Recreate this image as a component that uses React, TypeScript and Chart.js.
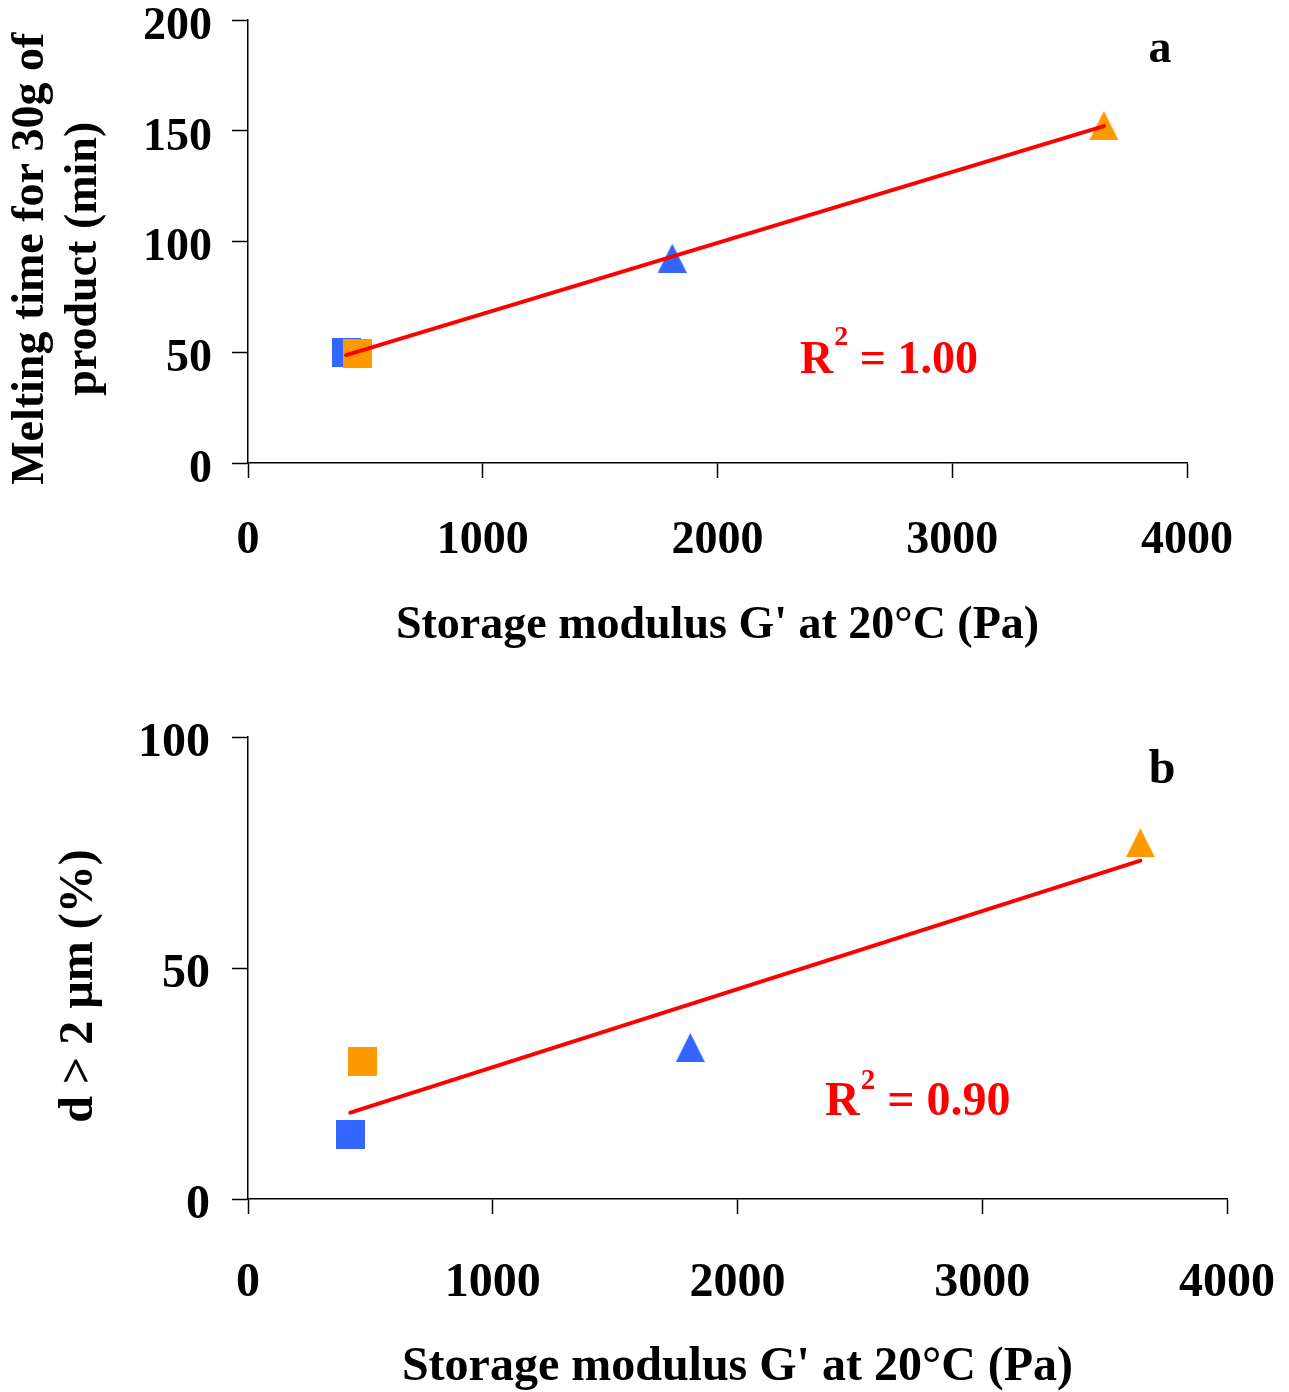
import React, { useEffect, useRef } from 'react';
import { Chart, registerables } from 'chart.js';

Chart.register(...registerables);

// ---------- data ----------
const sampleNames = ['Sample 1 (blue square)', 'Sample 2 (orange square)', 'Sample 3 (blue triangle)', 'Sample 4 (orange triangle)'];
const sampleColors = ['#3366FF', '#FF9900', '#3366FF', '#FF9900'];
const sampleShapes = ['square', 'square', 'triangle', 'triangle'];
const storageModulus = [418, 466, 1807, 3646]; // G' at 20°C (Pa)
const meltingTime = [50, 49.4, 92.5, 152.4]; // min, panel a
const largeDropletShare = [13.9, 29.8, 32.8, 77.1]; // d > 2 µm (%), panel b
const xTicks = [0, 1000, 2000, 3000, 4000];
const yTicksA = [0, 50, 100, 150, 200];
const yTicksB = [0, 50, 100];
const r2LabelA = '1.00';
const r2LabelB = '0.90';
const xTitle = "Storage modulus G' at 20°C (Pa)";
const yTitleA = ['Melting time for 30g of', 'product (min)'];
const yTitleB = ['d > 2 µm (%)'];

const FONT = "'Liberation Serif', 'Times New Roman', Times, serif";

function fitLine(xs: number[], ys: number[]) {
  const n = xs.length;
  const mx = xs.reduce((a, b) => a + b, 0) / n;
  const my = ys.reduce((a, b) => a + b, 0) / n;
  let sxx = 0;
  let sxy = 0;
  for (let i = 0; i < n; i++) {
    sxx += (xs[i] - mx) * (xs[i] - mx);
    sxy += (xs[i] - mx) * (ys[i] - my);
  }
  const slope = sxy / sxx;
  const intercept = my - slope * mx;
  const x0 = Math.min(...xs);
  const x1 = Math.max(...xs);
  return [
    { x: x0, y: intercept + slope * x0 },
    { x: x1, y: intercept + slope * x1 },
  ];
}

function makeMarker(shape: string, color: string, size: number) {
  const c = document.createElement('canvas');
  c.width = size;
  c.height = size;
  const ctx = c.getContext('2d')!;
  ctx.fillStyle = color;
  if (shape === 'square') {
    ctx.fillRect(0, 0, size, size);
  } else {
    ctx.beginPath();
    ctx.moveTo(size / 2, 0);
    ctx.lineTo(size, size);
    ctx.lineTo(0, size);
    ctx.closePath();
    ctx.fill();
  }
  return c;
}

type Panel = {
  values: number[];
  yTicks: number[];
  yTitle: string[];
  canvasHeight: number;
  area: { left: number; top: number; right: number; bottom: number };
  font: number;
  supFont: number;
  supRaise: number;
  xTickPad: number;
  yTickPad: number;
  labelOffset: number;
  xTitlePad: number;
  yTitlePad: number;
  yTitleLineHeight: number;
  yTitleShift: string;
  letter: string;
  letterPos: [number, number];
  r2: string;
  r2Pos: [number, number];
};

function buildConfig(p: Panel) {
  const W = 1289;
  const markerDatasets = sampleNames.map((name, i) => ({
    type: 'scatter' as const,
    label: name,
    data: [{ x: storageModulus[i], y: p.values[i] }],
    pointStyle: makeMarker(sampleShapes[i], sampleColors[i], 29),
    pointRadius: 15,
    order: sampleNames.length - i,
  }));
  const trend = {
    type: 'scatter' as const,
    label: 'Linear fit',
    data: fitLine(storageModulus, p.values),
    showLine: true,
    borderColor: '#FF0000',
    borderWidth: 4,
    pointRadius: 0,
    borderCapStyle: 'round' as const,
    order: 0,
  };

  const annotations = {
    id: 'panelText',
    afterDatasetsDraw(chart: any) {
      const ctx = chart.ctx as CanvasRenderingContext2D;
      ctx.save();
      ctx.textBaseline = 'alphabetic';
      // panel letter
      ctx.fillStyle = '#000';
      ctx.font = `bold ${p.font}px ${FONT}`;
      ctx.textAlign = 'center';
      ctx.fillText(p.letter, p.letterPos[0], p.letterPos[1]);
      // R² label
      ctx.fillStyle = '#FF0000';
      ctx.textAlign = 'left';
      let x = p.r2Pos[0];
      const y = p.r2Pos[1];
      ctx.font = `bold ${p.font}px ${FONT}`;
      ctx.fillText('R', x, y);
      x += ctx.measureText('R').width + 1;
      ctx.font = `bold ${p.supFont}px ${FONT}`;
      ctx.fillText('2', x, y - p.supRaise);
      x += ctx.measureText('2').width;
      ctx.font = `bold ${p.font}px ${FONT}`;
      ctx.fillText(' = ' + p.r2, x, y);
      ctx.restore();
    },
  };

  const tickFont = { family: FONT, size: p.font, weight: 'bold' as const };
  const yMax = p.yTicks[p.yTicks.length - 1];

  return {
    data: { datasets: [trend, ...markerDatasets] },
    options: {
      responsive: false,
      animation: false as const,
      devicePixelRatio: 1,
      layout: {
        padding: { left: 0, top: p.area.top, right: W - p.area.right, bottom: 0 },
      },
      plugins: {
        legend: { display: false },
        tooltip: { enabled: false },
      },
      scales: {
        x: {
          type: 'linear' as const,
          min: xTicks[0],
          max: xTicks[xTicks.length - 1],
          afterBuildTicks: (scale: any) => {
            scale.ticks = xTicks.map((v) => ({ value: v }));
          },
          afterFit: (scale: any) => {
            scale.height = p.canvasHeight - p.area.bottom;
            scale.paddingLeft = 0;
            scale.paddingRight = 0;
          },
          grid: {
            display: true,
            drawOnChartArea: false,
            drawTicks: true,
            tickLength: 15,
            tickColor: '#000',
            tickWidth: 1.5,
            color: '#000',
          },
          border: { display: true, color: '#000', width: 1.5 },
          ticks: {
            color: '#000',
            font: tickFont,
            padding: p.xTickPad,
            maxRotation: 0,
            autoSkip: false,
            callback: (v: any) => String(v),
          },
          title: {
            display: true,
            text: xTitle,
            color: '#000',
            font: { family: FONT, size: p.font, weight: 'bold' as const },
            padding: { top: 0, bottom: p.xTitlePad },
          },
        },
        y: {
          type: 'linear' as const,
          min: p.yTicks[0],
          max: yMax,
          afterBuildTicks: (scale: any) => {
            scale.ticks = p.yTicks.map((v) => ({ value: v }));
          },
          afterFit: (scale: any) => {
            scale.width = p.area.left;
            scale.paddingTop = 0;
            scale.paddingBottom = 0;
          },
          grid: {
            display: true,
            drawOnChartArea: false,
            drawTicks: true,
            tickLength: 16,
            tickColor: '#000',
            tickWidth: 1.5,
            color: '#000',
          },
          border: { display: true, color: '#000', width: 1.5 },
          ticks: {
            color: '#000',
            font: tickFont,
            padding: p.yTickPad,
            labelOffset: p.labelOffset,
            autoSkip: false,
            callback: (v: any) => String(v),
          },
          title: {
            display: true,
            text: p.yTitle.map((t) => t + p.yTitleShift),
            color: '#000',
            font: { family: FONT, size: p.font, weight: 'bold' as const, lineHeight: p.yTitleLineHeight },
            padding: { top: p.yTitlePad, bottom: 0 },
          },
        },
      },
    },
    plugins: [annotations],
  };
}

const panelA: Panel = {
  values: meltingTime,
  yTicks: yTicksA,
  yTitle: yTitleA,
  canvasHeight: 690,
  area: { left: 248, top: 20, right: 1187, bottom: 463 },
  font: 46,
  supFont: 28,
  supRaise: 28,
  xTickPad: 36,
  yTickPad: 20,
  labelOffset: 7,
  xTitlePad: 36,
  yTitlePad: 5,
  yTitleLineHeight: 1.15,
  yTitleShift: '   ',
  letter: 'a',
  letterPos: [1160, 62],
  r2: r2LabelA,
  r2Pos: [800, 373],
};

const panelB: Panel = {
  values: largeDropletShare,
  yTicks: yTicksB,
  yTitle: yTitleB,
  canvasHeight: 702,
  area: { left: 248, top: 47, right: 1227, bottom: 509 },
  font: 48,
  supFont: 29,
  supRaise: 26,
  xTickPad: 41,
  yTickPad: 22,
  labelOffset: 7,
  xTitlePad: -4,
  yTitlePad: 51,
  yTitleLineHeight: 1.2,
  yTitleShift: '   ',
  letter: 'b',
  letterPos: [1162, 93],
  r2: r2LabelB,
  r2Pos: [825, 425],
};

function ChartPanel({ panel, top }: { panel: Panel; top: number }) {
  const ref = useRef<HTMLCanvasElement | null>(null);
  useEffect(() => {
    if (!ref.current) return;
    const cfg: any = buildConfig(panel);
    const chart = new Chart(ref.current, { type: 'scatter', ...cfg });
    return () => chart.destroy();
  }, [panel]);
  return (
    <canvas
      ref={ref}
      width={1289}
      height={panel.canvasHeight}
      style={{ position: 'absolute', left: 0, top, width: 1289, height: panel.canvasHeight, display: 'block' }}
    />
  );
}

export default function App() {
  return (
    <div style={{ position: 'absolute', left: 0, top: 0, width: 1289, height: 1392, background: '#ffffff', overflow: 'hidden' }}>
      <ChartPanel panel={panelA} top={0} />
      <ChartPanel panel={panelB} top={690} />
    </div>
  );
}
